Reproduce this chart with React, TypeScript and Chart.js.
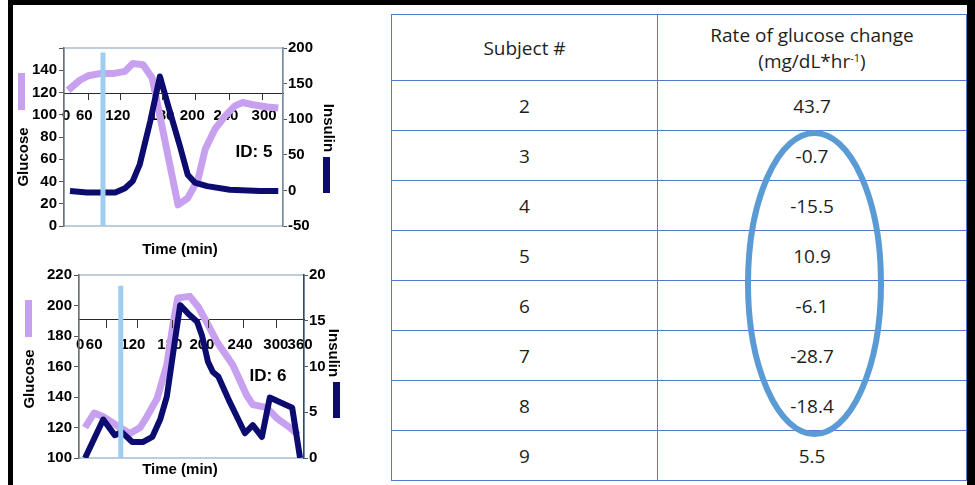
import React, { useEffect, useRef } from "react";
import { Chart, registerables } from "chart.js";

Chart.register(...registerables);

// ---------------- Panel ID 5 ----------------
const id5TickValues = [-6, 22, 74, 142, 189, 241, 300];
const id5TickLabels = ["0", "60", "120", "180", "200", "240", "300"];
const id5TickMarks = [28, 77, 142, 193, 246, 297];
const id5GlucoseTime = [-3, 15, 28, 46, 66, 85, 97, 113, 127, 167, 182, 198, 209, 224, 240, 255, 267, 283, 305, 322];
const id5Glucose = [122, 131, 135, 137, 137, 139, 146, 145, 133, 19, 25, 42, 69, 87, 99, 108, 111, 109, 107, 106];
const id5InsulinTime = [0, 26, 70, 85, 97, 108, 124, 139, 152, 170, 182, 193, 212, 247, 294, 322];
const id5Insulin = [-1, -3, -3, 3, 13, 37, 97, 160, 118, 62, 22, 11, 6, 1, -1, -1];
const id5Marker = 51;

// ---------------- Panel ID 6 ----------------
const id6TickValues = [-3, 20, 84, 145, 198, 261, 320, 360];
const id6TickLabels = ["0", "60", "120", "180", "200", "240", "300", "360"];
const id6TickMarks = [40, 91, 149, 208, 266, 320];
const id6GlucoseTime = [5, 20, 35, 51, 63, 79, 96, 107, 124, 140, 150, 158, 178, 192, 206, 223, 249, 272, 282, 305, 322, 343, 357];
const id6Glucose = [120, 129.5, 127, 123, 120, 116, 120, 127, 139, 161, 187, 205, 206, 199, 189, 176, 161, 141, 135, 133, 126, 120, 115];
const id6InsulinTime = [5, 35, 54, 66, 83, 101, 116, 129, 140, 154, 162, 175, 190, 198, 208, 216, 225, 244, 269, 282, 297, 310, 327, 347, 360];
const id6Insulin = [0, 4.2, 2.5, 2.8, 1.75, 1.75, 2.3, 4.2, 6.7, 13.1, 16.7, 15.8, 14.9, 13.4, 10.5, 9.4, 8.9, 6.1, 2.7, 3.6, 2.3, 6.6, 6.1, 5.5, 0];
const id6Marker = 64;

// ---------------- Table ----------------
const subjects = ["2", "3", "4", "5", "6", "7", "8", "9"];
const rates = ["43.7", "-0.7", "-15.5", "10.9", "-6.1", "-28.7", "-18.4", "5.5"];

const FONT = "'Liberation Sans', Arial, Helvetica, sans-serif";
const LAV = "#C7A0F0";
const NAVY = "#0B0B70";
const MARK = "#9ECDF2";
const TABLE_LINE = "#5478CC";

const framePlugin = {
  id: "frame",
  beforeDraw(chart: any, _args: any, opts: any) {
    const { ctx, chartArea: a } = chart;
    ctx.save();
    ctx.strokeStyle = opts.color;
    ctx.lineWidth = 1.5;
    ctx.strokeRect(a.left, a.top, a.right - a.left, a.bottom - a.top);
    ctx.restore();
  },
  afterDatasetsDraw(chart: any, _args: any, opts: any) {
    const { ctx } = chart;
    const xs = chart.scales.x;
    const ys = chart.scales.y;
    const yPix = ys.getPixelForValue(opts.axisAt);
    ctx.save();
    ctx.strokeStyle = opts.tickColor;
    ctx.lineWidth = 1;
    for (const v of opts.marks) {
      const px = Math.round(xs.getPixelForValue(v)) + 0.5;
      ctx.beginPath();
      ctx.moveTo(px, yPix);
      ctx.lineTo(px, yPix + opts.len);
      ctx.stroke();
    }
    ctx.restore();
  },
};

type Cfg = {
  glucoseTime: number[];
  glucose: number[];
  insulinTime: number[];
  insulin: number[];
  marker: number;
  markerTop: number;
  tickValues: number[];
  tickLabels: string[];
  tickMarks: number[];
  xMin: number;
  xMax: number;
  gMin: number;
  gMax: number;
  gStep: number;
  iMin: number;
  iMax: number;
  iStep: number;
  axisAt: number;
  hideTop: boolean;
  padTop: number;
  padBottom: number;
  leftW: number;
  rightW: number;
  labelPad: number;
  markLen: number;
  leftBorder: string;
  rightBorder: string;
};

function Panel({ cfg, left, top, width, height }: { cfg: Cfg; left: number; top: number; width: number; height: number }) {
  const ref = useRef<HTMLCanvasElement>(null);
  useEffect(() => {
    const font = { family: FONT, size: 15, weight: "bold" as const };
    const chart = new Chart(ref.current!, {
      type: "line",
      data: {
        datasets: [
          {
            data: [
              { x: cfg.marker, y: cfg.gMin },
              { x: cfg.marker, y: cfg.markerTop },
            ],
            borderColor: MARK,
            borderWidth: 5,
            yAxisID: "y",
            pointRadius: 0,
            borderCapStyle: "butt",
          },
          {
            data: cfg.insulinTime.map((t, i) => ({ x: t, y: cfg.insulin[i] })),
            borderColor: NAVY,
            borderWidth: 6,
            yAxisID: "y1",
            pointRadius: 0,
            borderJoinStyle: "round",
            tension: 0,
          },
          {
            data: cfg.glucoseTime.map((t, i) => ({ x: t, y: cfg.glucose[i] })),
            borderColor: LAV,
            borderWidth: 7,
            yAxisID: "y",
            pointRadius: 0,
            borderJoinStyle: "round",
            tension: 0,
          },
        ] as any,
      },
      options: {
        responsive: false,
        maintainAspectRatio: false,
        animation: false,
        events: [],
        layout: { padding: { left: 0, right: 0, top: cfg.padTop, bottom: cfg.padBottom } },
        plugins: {
          legend: { display: false },
          tooltip: { enabled: false },
          frame: { color: "#A9BDD0", tickColor: "#333", marks: cfg.tickMarks, axisAt: cfg.axisAt, len: cfg.markLen },
        } as any,
        scales: {
          x: {
            type: "linear",
            min: cfg.xMin,
            max: cfg.xMax,
            position: { y: cfg.axisAt } as any,
            afterBuildTicks: (s: any) => {
              s.ticks = cfg.tickValues.map((v) => ({ value: v }));
            },
            ticks: {
              autoSkip: false,
              maxRotation: 0,
              minRotation: 0,
              padding: cfg.labelPad,
              color: "#000",
              font,
              callback: (_v: any, i: number) => cfg.tickLabels[i],
            },
            grid: { display: true, drawOnChartArea: false, drawTicks: false },
            border: { display: true, color: "#2a2a2a", width: 1 },
          },
          y: {
            type: "linear",
            position: "left",
            min: cfg.gMin,
            max: cfg.gMax,
            afterFit: (s: any) => {
              s.width = cfg.leftW;
            },
            ticks: {
              stepSize: cfg.gStep,
              padding: 2,
              color: "#000",
              font,
              callback: (v: any) => (cfg.hideTop && v === cfg.gMax ? "" : String(v)),
            },
            grid: { drawOnChartArea: false, drawTicks: true, tickLength: 5, color: "#555" },
            border: { display: true, color: cfg.leftBorder, width: 1.5 },
          },
          y1: {
            type: "linear",
            position: "right",
            min: cfg.iMin,
            max: cfg.iMax,
            afterFit: (s: any) => {
              s.width = cfg.rightW;
            },
            ticks: { stepSize: cfg.iStep, padding: 1, color: "#000", font },
            grid: { drawOnChartArea: false, drawTicks: true, tickLength: 4, color: "#555" },
            border: { display: true, color: cfg.rightBorder, width: 1.5 },
          },
        },
      } as any,
      plugins: [framePlugin as any],
    });
    return () => chart.destroy();
  }, []);
  return (
    <canvas
      ref={ref}
      width={width}
      height={height}
      style={{ position: "absolute", left, top, width, height }}
    />
  );
}

const cfg5: Cfg = {
  glucoseTime: id5GlucoseTime,
  glucose: id5Glucose,
  insulinTime: id5InsulinTime,
  insulin: id5Insulin,
  marker: id5Marker,
  markerTop: 156,
  tickValues: id5TickValues,
  tickLabels: id5TickLabels,
  tickMarks: id5TickMarks,
  xMin: -9.3,
  xMax: 329.3,
  gMin: 0,
  gMax: 160,
  gStep: 20,
  iMin: -50,
  iMax: 200,
  iStep: 50,
  axisAt: 119.5,
  hideTop: true,
  padTop: 48,
  padBottom: 32,
  leftW: 64,
  rightW: 97,
  labelPad: 14,
  markLen: 7,
  leftBorder: "#707070",
  rightBorder: "#7A8C9E",
};

const cfg6: Cfg = {
  glucoseTime: id6GlucoseTime,
  glucose: id6Glucose,
  insulinTime: id6InsulinTime,
  insulin: id6Insulin,
  marker: id6Marker,
  markerTop: 213,
  tickValues: id6TickValues,
  tickLabels: id6TickLabels,
  tickMarks: id6TickMarks,
  xMin: -5,
  xMax: 366.5,
  gMin: 100,
  gMax: 220,
  gStep: 20,
  iMin: 0,
  iMax: 20,
  iStep: 5,
  axisAt: 190.5,
  hideTop: false,
  padTop: 17,
  padBottom: 27,
  leftW: 79,
  rightW: 76,
  labelPad: 16,
  markLen: 8,
  leftBorder: "#707070",
  rightBorder: "#2F4A66",
};

const txt: React.CSSProperties = {
  position: "absolute",
  fontFamily: FONT,
  fontWeight: "bold",
  color: "#000",
  whiteSpace: "nowrap",
  lineHeight: 1,
};

function Label({ x, y, size, rot, children }: { x: number; y: number; size: number; rot?: number; children: React.ReactNode }) {
  return (
    <div style={{ ...txt, left: x, top: y, fontSize: size, transform: `translate(-50%, -50%) rotate(${rot || 0}deg)` }}>
      {children}
    </div>
  );
}

function Swatch({ x, y, w, h, color }: { x: number; y: number; w: number; h: number; color: string }) {
  return <div style={{ position: "absolute", left: x, top: y, width: w, height: h, background: color }} />;
}

const cell: React.CSSProperties = {
  border: `1px solid ${TABLE_LINE}`,
  textAlign: "center",
  verticalAlign: "middle",
  padding: 0,
};

export default function App() {
  return (
    <div style={{ position: "absolute", left: 0, top: 0, width: 975, height: 485, background: "#fff", overflow: "hidden" }}>
      <Panel cfg={cfg5} left={0} top={0} width={380} height={258} />
      <Panel cfg={cfg6} left={0} top={258} width={380} height={227} />

      {/* Panel ID 5 texts */}
      <Label x={22} y={157} size={15} rot={-90}>Glucose</Label>
      <Label x={329} y={128} size={15} rot={90}>Insulin</Label>
      <Label x={180} y={248} size={15}>Time (min)</Label>
      <Label x={254} y={151} size={17}>ID: 5</Label>
      <Swatch x={18} y={73} w={7} h={37} color={LAV} />
      <Swatch x={323} y={157} w={7} h={36} color={NAVY} />

      {/* Panel ID 6 texts */}
      <Label x={28} y={379} size={15} rot={-90}>Glucose</Label>
      <Label x={334} y={353} size={15} rot={90}>Insulin</Label>
      <Label x={180} y={468} size={15}>Time (min)</Label>
      <Label x={268} y={375} size={17}>ID: 6</Label>
      <Swatch x={25} y={300} w={7} h={37} color={LAV} />
      <Swatch x={333} y={382} w={7} h={36} color={NAVY} />

      {/* Table */}
      <table
        style={{
          position: "absolute",
          left: 391,
          top: 14,
          width: 575,
          borderCollapse: "collapse",
          tableLayout: "fixed",
          fontFamily: "'Open Sans', Lato, sans-serif",
          fontSize: 19,
          color: "#1e1e1e",
        }}
      >
        <colgroup>
          <col style={{ width: 266 }} />
          <col style={{ width: 309 }} />
        </colgroup>
        <tbody>
          <tr style={{ height: 66 }}>
            <td style={cell}>Subject #</td>
            <td style={{ ...cell, lineHeight: "26px" }}>
              Rate of glucose change
              <br />
              (mg/dL*hr
              <sup style={{ fontSize: 11, lineHeight: 0, verticalAlign: "6px" }}>-1</sup>)
            </td>
          </tr>
          {subjects.map((s, i) => (
            <tr key={s} style={{ height: 50 }}>
              <td style={cell}>{s}</td>
              <td style={cell}>{rates[i]}</td>
            </tr>
          ))}
        </tbody>
      </table>

      <svg width={975} height={485} style={{ position: "absolute", left: 0, top: 0, pointerEvents: "none" }}>
        <ellipse cx={814.5} cy={283.5} rx={66.5} ry={150.5} fill="none" stroke="#5B9BD5" strokeWidth={6} />
      </svg>

      {/* black frame */}
      <div style={{ position: "absolute", left: 8, top: 0, width: 967, height: 5, background: "#000" }} />
      <div style={{ position: "absolute", left: 8, top: 0, width: 5, height: 485, background: "#000" }} />
      <div style={{ position: "absolute", left: 967, top: 0, width: 8, height: 485, background: "#000" }} />
    </div>
  );
}
